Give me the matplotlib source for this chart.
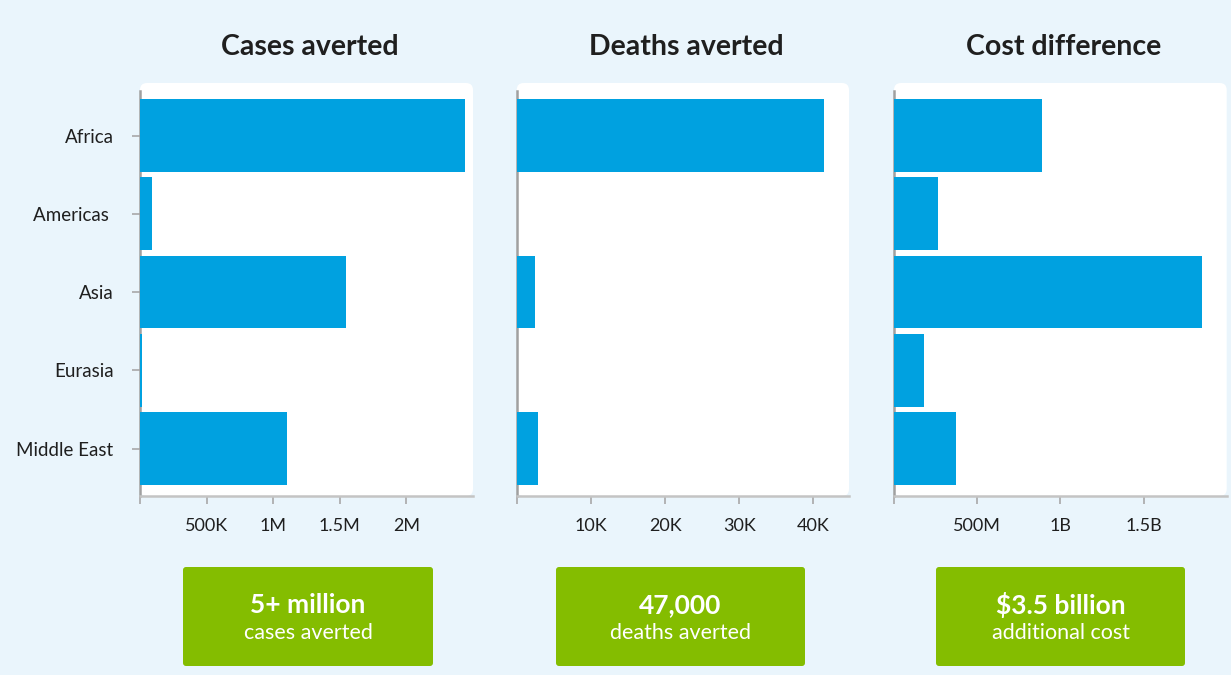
import matplotlib
matplotlib.use("Agg")
import matplotlib.pyplot as plt
from matplotlib.patches import FancyBboxPatch
from matplotlib.transforms import IdentityTransform

regions = ["Africa", "Americas ", "Asia", "Eurasia", "Middle East"]
cases = [2440000, 90000, 1550000, 15000, 1100000]
deaths = [41400, 0, 2500, 0, 2900]
cost = [888e6, 265e6, 1850e6, 180e6, 372e6]

titles = ["Cases averted", "Deaths averted", "Cost difference"]
xmax = [2.5e6, 44800, 2.0e9]
tick_vals = [[0, 5e5, 1e6, 1.5e6, 2e6], [0, 1e4, 2e4, 3e4, 4e4], [0, 5e8, 1e9, 1.5e9]]
tick_labels = [["", "500K", "1M", "1.5M", "2M"], ["", "10K", "20K", "30K", "40K"], ["", "500M", "1B", "1.5B"]]
box_big = ["5+ million", "47,000", "$3.5 billion"]
box_small = ["cases averted", "deaths averted", "additional cost"]

BG = "#eaf5fc"
BAR = "#00a1e0"
GREEN = "#84bd00"
TXT = "#1f1f1f"
plt.rcParams['font.family'] = ['Lato', 'DejaVu Sans']

W, H = 1231, 675
fig = plt.figure(figsize=(W / 100, H / 100), dpi=100, facecolor=BG)

panels_x = [(140, 473), (516.7, 849), (894, 1226.7)]
ax_top, ax_bot = 91, 496
box_x = [(183, 433), (556, 805), (936, 1185)]
series = [cases, deaths, cost]

for i, ((x0, x1), vals) in enumerate(zip(panels_x, series)):
    # white rounded background
    bg = FancyBboxPatch((x0, H - 496), x1 - x0, 496 - 83,
                        boxstyle="round,pad=0,rounding_size=7",
                        transform=IdentityTransform(), facecolor="white",
                        edgecolor="none", zorder=-5)
    fig.patches.append(bg)
    ax = fig.add_axes([x0 / W, (H - ax_bot) / H, (x1 - x0) / W, (ax_bot - ax_top) / H])
    ax.set_facecolor("none")
    ax.barh(range(len(regions)), vals, height=0.93, color=BAR, zorder=3)
    ax.set_ylim(4.607, -0.569)
    ax.set_xlim(0, xmax[i])
    ax.set_xticks(tick_vals[i])
    ax.set_xticklabels(tick_labels[i])
    ax.tick_params(axis='x', length=6, width=1.2, color="#a8a8a8", pad=10,
                   labelsize=13, labelcolor=TXT)
    ax.set_yticks(range(len(regions)))
    if i == 0:
        ax.set_yticklabels(regions)
        ax.tick_params(axis='y', length=6, width=1.2, color="#a8a8a8", pad=13,
                       labelsize=13.5, labelcolor=TXT)
    else:
        ax.set_yticklabels([])
        ax.tick_params(axis='y', length=0)
    for s in ["top", "right"]:
        ax.spines[s].set_visible(False)
    ax.spines["left"].set_color("#a0a0a0")
    ax.spines["left"].set_linewidth(1.8)
    ax.spines["bottom"].set_color("#c4c4c4")
    ax.spines["bottom"].set_linewidth(1.8)
    cx = (x0 + x1) / 2
    fig.text((cx + 3) / W, (H - 47) / H, titles[i], ha="center", va="center",
             fontsize=20.5, fontweight="bold", color=TXT)
    # green box
    bx0, bx1 = box_x[i]
    gb = FancyBboxPatch((bx0, H - 666), bx1 - bx0, 99,
                        boxstyle="round,pad=0,rounding_size=3",
                        transform=IdentityTransform(), facecolor=GREEN,
                        edgecolor="none", zorder=-4)
    fig.patches.append(gb)
    bcx = (bx0 + bx1) / 2
    fig.text(bcx / W, (H - 605) / H, box_big[i], ha="center", va="center",
             fontsize=19, fontweight="bold", color="white")
    fig.text(bcx / W, (H - 633) / H, box_small[i], ha="center", va="center",
             fontsize=15.5, fontweight="normal", color="white")

fig.savefig("out.png", dpi=100, facecolor=BG)
